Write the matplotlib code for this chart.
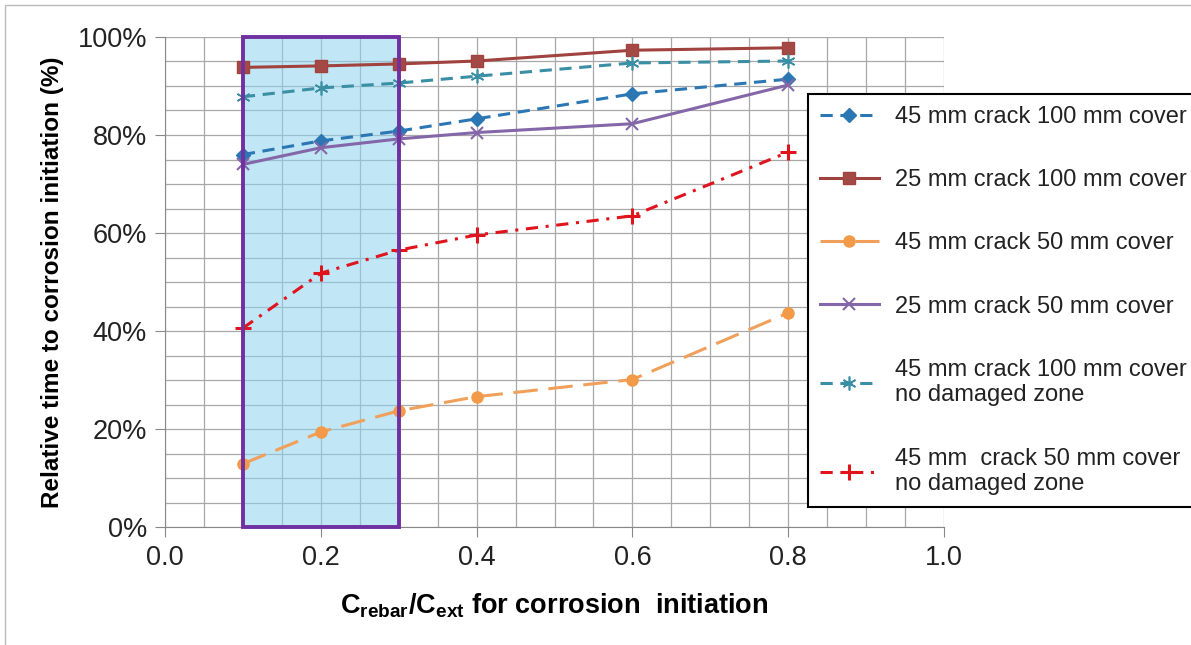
import matplotlib
matplotlib.use("Agg")
import matplotlib.pyplot as plt
from matplotlib.patches import Rectangle
from matplotlib.ticker import MultipleLocator, FuncFormatter

plt.rcParams['font.family'] = ['Liberation Sans', 'DejaVu Sans']
plt.rcParams['mathtext.fontset'] = 'custom'
plt.rcParams['mathtext.rm'] = 'Liberation Sans'
plt.rcParams['mathtext.bf'] = 'Liberation Sans:bold'

# data
x = [0.1, 0.2, 0.3, 0.4, 0.6, 0.8]
crack45_cover100 = [76.0, 78.8, 80.8, 83.3, 88.4, 91.4]
crack25_cover100 = [93.8, 94.1, 94.5, 95.1, 97.3, 97.8]
crack45_cover50 = [12.9, 19.4, 23.7, 26.6, 30.1, 43.7]
crack25_cover50 = [74.0, 77.4, 79.2, 80.5, 82.3, 90.2]
crack45_cover100_nodz = [87.8, 89.6, 90.6, 92.0, 94.7, 95.1]
crack45_cover50_nodz = [40.6, 51.8, 56.5, 59.6, 63.5, 76.5]

labels = ["45 mm crack 100 mm cover",
          "25 mm crack 100 mm cover",
          "45 mm crack 50 mm cover",
          "25 mm crack 50 mm cover",
          "45 mm crack 100 mm cover\nno damaged zone",
          "45 mm  crack 50 mm cover\nno damaged zone"]

fig = plt.figure(figsize=(11.91, 6.45), dpi=100)
ax = fig.add_axes([165/1191, 1 - 527/645, 779/1191, 490/645])

# shaded region
ax.add_patch(Rectangle((0.1, 0), 0.2, 100, facecolor='#8fd3f0', alpha=0.55,
                       edgecolor='none', zorder=1))
ax.add_patch(Rectangle((0.1, 0), 0.2, 100, facecolor='none',
                       edgecolor='#7030A0', lw=2.8, zorder=4, clip_on=False))

ax.plot(x, crack45_cover100, color='#2B77B3', ls=(0, (4, 2.5)), lw=2.2,
        marker='D', ms=7, label=labels[0], zorder=3)
ax.plot(x, crack25_cover100, color='#A0433E', ls='-', lw=2.2,
        marker='s', ms=9, mfc='#A44A46', label=labels[1], zorder=3)
ax.plot(x, crack45_cover50, color='#F0A05A', ls=(0, (8, 3.5)), lw=2.2,
        marker='o', ms=8, mfc='#F39A48', mec='#F39A48', label=labels[2], zorder=3)
ax.plot(x, crack25_cover50, color='#8467A8', ls='-', lw=2.2,
        marker='x', ms=9, mew=1.5, label=labels[3], zorder=3)
ax.plot(x, crack45_cover100_nodz, color='#3A8FA5', ls=(0, (4, 2.5)), lw=2.2,
        marker=(6, 2, 0), ms=10, mew=1.2, label=labels[4], zorder=3)
ax.plot(x, crack45_cover50_nodz, color='#E0141C', ls=(0, (4, 2.5, 1, 2.5)), lw=2.2,
        marker='+', ms=12, mew=2.2, label=labels[5], zorder=3)

ax.set_xlim(0, 1.0)
ax.set_ylim(0, 100)
ax.xaxis.set_major_locator(MultipleLocator(0.2))
ax.xaxis.set_minor_locator(MultipleLocator(0.05))
ax.yaxis.set_major_locator(MultipleLocator(20))
ax.yaxis.set_minor_locator(MultipleLocator(5))
ax.xaxis.set_major_formatter(FuncFormatter(lambda v, p: f"{v:.1f}"))
ax.yaxis.set_major_formatter(FuncFormatter(lambda v, p: f"{v:.0f}%"))
ax.grid(which='both', color='#A8A8A8', lw=0.9, zorder=0)
ax.set_axisbelow(True)
ax.tick_params(which='major', length=7, color='#888888', labelsize=19.5,
               labelcolor='#222222', pad=6)
ax.tick_params(which='minor', length=0)
for s in ['top', 'right']:
    ax.spines[s].set_visible(False)
for s in ['left', 'bottom']:
    ax.spines[s].set_color('#888888')

ax.set_ylabel("Relative time to corrosion initiation (%)", fontsize=17.5,
              fontweight='bold', labelpad=10)
ax.set_xlabel(r"$\mathbf{C}_{\mathbf{rebar}}$/$\mathbf{C}_{\mathbf{ext}}$ for corrosion  initiation",
              fontsize=19.5, fontweight='bold', labelpad=15)

leg = fig.legend(loc='upper left', bbox_to_anchor=(808/1191, 1 - 94/645),
                 fontsize=17, frameon=True, fancybox=False, framealpha=1,
                 edgecolor='black', labelspacing=1.75, handlelength=2.5,
                 handletextpad=0.7, borderpad=0.5, borderaxespad=0)
leg.get_frame().set_linewidth(1.5)
for t in leg.get_texts():
    t.set_color('#222222')

# outer frame
fig.patches.append(Rectangle((5/1191, -0.1), 1.2, 1 - 5/645 + 0.1,
                             transform=fig.transFigure, fill=False,
                             edgecolor='#BBBBBB', lw=1))

fig.savefig("out.png", dpi=100)
